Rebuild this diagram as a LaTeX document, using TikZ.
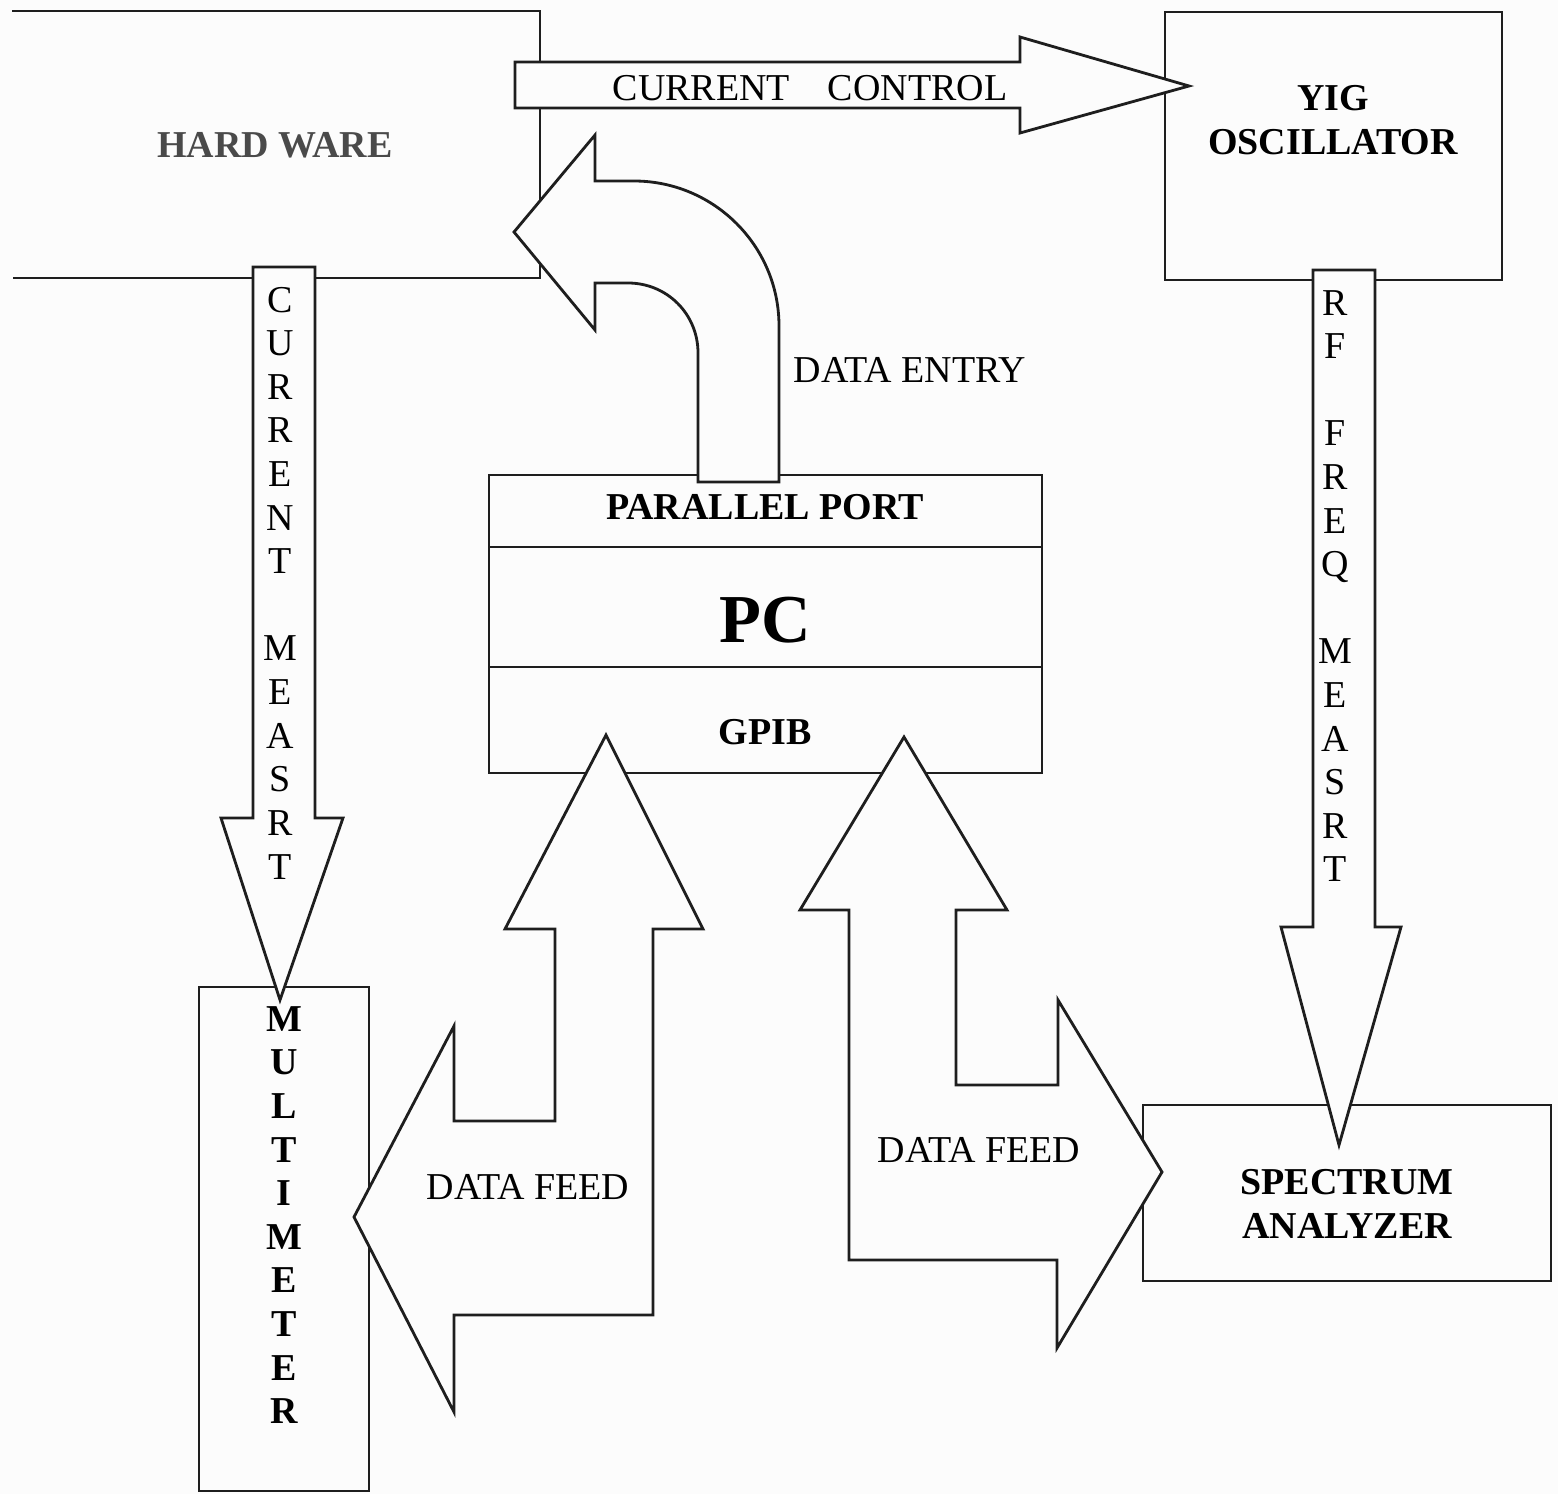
\documentclass[tikz,border=0pt]{standalone}
\usepackage{fontspec}
\setmainfont{Liberation Serif}
\usetikzlibrary{positioning}

\definecolor{ink}{HTML}{1E1E1E}
\definecolor{paper}{HTML}{FCFCFC}
\definecolor{hwgray}{HTML}{4A4A4A}

\tikzset{
  box/.style={draw=ink, line width=0.8pt},
  fat/.style={draw=ink, fill=paper, line width=0.8pt, line join=miter},
  lbl/.style={font=\fontsize{10.8}{12.4}\selectfont, inner sep=0pt},
  blbl/.style={font=\bfseries\fontsize{10.8}{12.4}\selectfont, inner sep=0pt},
  stack/.style={lbl, align=center},
}

\begin{document}
\begin{tikzpicture}[x=0.01cm, y=-0.01cm]

\fill[paper] (0,0) rectangle (1558,1494);
\useasboundingbox (0,0) rectangle (1558,1494);

% blocks
\draw[box] (12,11) -- (540,11) -- (540,278) -- (13,278);
\draw[box] (1165,12) rectangle (1502,280);
\draw[box] (489,475) rectangle (1042,773);
\draw[box] (489,547) -- (1042,547);
\draw[box] (489,667) -- (1042,667);
\draw[box] (199,987) rectangle (369,1491);
\draw[box] (1143,1105) rectangle (1551,1281);

% fat arrows
\draw[fat] (515,62) -- (1020,62) -- (1020,37) -- (1189,86) -- (1020,133) -- (1020,108) -- (515,108) -- cycle;
\draw[fat] (779,482) -- (779,326) .. controls (779,246) and (714,181) .. (634,181) -- (595,181) -- (595,135)
  -- (514,232) -- (595,330) -- (595,283) -- (628,283) .. controls (667,283) and (698,314) .. (698,353) -- (698,482) -- cycle;
\draw[fat] (253,267) -- (315,267) -- (315,818) -- (343,818) -- (280,1000) -- (221,818) -- (253,818) -- cycle;
\draw[fat] (1313,270) -- (1375,270) -- (1375,927) -- (1401,927) -- (1339,1145) -- (1281,927) -- (1313,927) -- cycle;
\draw[fat] (555,929) -- (505,929) -- (606,735) -- (703,929) -- (653,929) -- (653,1315) -- (454,1315) -- (454,1412)
  -- (354,1217) -- (454,1026) -- (454,1121) -- (555,1121) -- cycle;
\draw[fat] (849,910) -- (800,910) -- (904,737) -- (1007,910) -- (956,910) -- (956,1085) -- (1058,1085) -- (1058,1000)
  -- (1162,1172) -- (1057,1348) -- (1057,1260) -- (849,1260) -- cycle;

% labels
\node[blbl, text=hwgray] (hw) at (275,145) {HARD WARE};
\node[blbl, align=center] (yig) at (1333,120) {YIG\\OSCILLATOR};
\node[blbl] (pp) at (765,507) {PARALLEL PORT};
\node[font=\bfseries\fontsize{19.5}{22}\selectfont, inner sep=0pt] (pc) at (765,620) {PC};
\node[blbl] (gpib) at (765,732) {GPIB};
\node[blbl, align=center] (sa) at (1347,1204) {SPECTRUM\\ANALYZER};
\node[blbl, align=center] (mm) at (284,1215) {M\\U\\L\\T\\I\\M\\E\\T\\E\\R};
\node[lbl] (cc) at (810,88) {CURRENT\quad CONTROL};
\node[lbl] (de) at (910,370) {DATA ENTRY};
\node[stack] (cm) at (280,583) {C\\U\\R\\R\\E\\N\\T\\[12.4pt]M\\E\\A\\S\\R\\T};
\node[stack] (rf) at (1335,586) {R\\F\\[12.4pt]F\\R\\E\\Q\\[12.4pt]M\\E\\A\\S\\R\\T};
\node[lbl] (dfl) at (528,1187) {DATA FEED};
\node[lbl] (dfr) at (979,1150) {DATA FEED};

\end{tikzpicture}
\end{document}
